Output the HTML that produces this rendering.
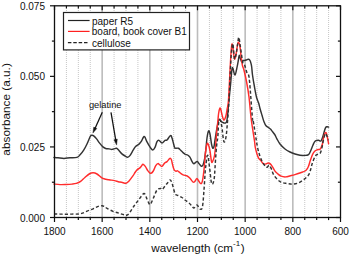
<!DOCTYPE html>
<html><head><meta charset="utf-8"><style>
html,body{margin:0;padding:0;background:#fff;}
body{width:350px;height:255px;overflow:hidden;}
svg{display:block;}
</style></head><body>
<svg width="350" height="255" viewBox="0 0 350 255">
<rect width="350" height="255" fill="#fff"/>
<g><line x1="66.42" y1="6.00" x2="66.42" y2="217.50" stroke="#c6c6c6" stroke-width="1" stroke-dasharray="1,1"/><line x1="78.33" y1="6.00" x2="78.33" y2="217.50" stroke="#c6c6c6" stroke-width="1" stroke-dasharray="1,1"/><line x1="90.25" y1="6.00" x2="90.25" y2="217.50" stroke="#c6c6c6" stroke-width="1" stroke-dasharray="1,1"/><line x1="102.17" y1="5.80" x2="102.17" y2="217.50" stroke="#bcbcbc" stroke-width="1.6"/><line x1="114.08" y1="6.00" x2="114.08" y2="217.50" stroke="#c6c6c6" stroke-width="1" stroke-dasharray="1,1"/><line x1="126.00" y1="6.00" x2="126.00" y2="217.50" stroke="#c6c6c6" stroke-width="1" stroke-dasharray="1,1"/><line x1="137.92" y1="6.00" x2="137.92" y2="217.50" stroke="#c6c6c6" stroke-width="1" stroke-dasharray="1,1"/><line x1="149.83" y1="5.80" x2="149.83" y2="217.50" stroke="#bcbcbc" stroke-width="1.6"/><line x1="161.75" y1="6.00" x2="161.75" y2="217.50" stroke="#c6c6c6" stroke-width="1" stroke-dasharray="1,1"/><line x1="173.67" y1="6.00" x2="173.67" y2="217.50" stroke="#c6c6c6" stroke-width="1" stroke-dasharray="1,1"/><line x1="185.58" y1="6.00" x2="185.58" y2="217.50" stroke="#c6c6c6" stroke-width="1" stroke-dasharray="1,1"/><line x1="197.50" y1="5.80" x2="197.50" y2="217.50" stroke="#bcbcbc" stroke-width="1.6"/><line x1="209.42" y1="6.00" x2="209.42" y2="217.50" stroke="#c6c6c6" stroke-width="1" stroke-dasharray="1,1"/><line x1="221.33" y1="6.00" x2="221.33" y2="217.50" stroke="#c6c6c6" stroke-width="1" stroke-dasharray="1,1"/><line x1="233.25" y1="6.00" x2="233.25" y2="217.50" stroke="#c6c6c6" stroke-width="1" stroke-dasharray="1,1"/><line x1="245.17" y1="5.80" x2="245.17" y2="217.50" stroke="#bcbcbc" stroke-width="1.6"/><line x1="257.08" y1="6.00" x2="257.08" y2="217.50" stroke="#c6c6c6" stroke-width="1" stroke-dasharray="1,1"/><line x1="269.00" y1="6.00" x2="269.00" y2="217.50" stroke="#c6c6c6" stroke-width="1" stroke-dasharray="1,1"/><line x1="280.92" y1="6.00" x2="280.92" y2="217.50" stroke="#c6c6c6" stroke-width="1" stroke-dasharray="1,1"/><line x1="292.83" y1="5.80" x2="292.83" y2="217.50" stroke="#bcbcbc" stroke-width="1.6"/><line x1="304.75" y1="6.00" x2="304.75" y2="217.50" stroke="#c6c6c6" stroke-width="1" stroke-dasharray="1,1"/><line x1="316.67" y1="6.00" x2="316.67" y2="217.50" stroke="#c6c6c6" stroke-width="1" stroke-dasharray="1,1"/><line x1="328.58" y1="6.00" x2="328.58" y2="217.50" stroke="#c6c6c6" stroke-width="1" stroke-dasharray="1,1"/></g>
<g fill="none" stroke-linejoin="round" stroke-linecap="round">
<path d="M54.00,157.50 C54.67,157.55 56.33,157.65 58.00,157.80 C59.67,157.95 62.00,158.40 64.00,158.40 C66.00,158.40 67.85,157.97 70.00,157.80 C72.15,157.63 75.18,157.93 76.90,157.40 C78.62,156.87 79.17,155.80 80.30,154.60 C81.43,153.40 82.57,152.02 83.70,150.20 C84.83,148.38 86.00,146.00 87.10,143.70 C88.20,141.40 89.48,137.80 90.30,136.40 C91.12,135.00 91.43,135.38 92.00,135.30 C92.57,135.22 92.93,135.30 93.70,135.90 C94.47,136.50 95.65,137.73 96.60,138.90 C97.55,140.07 98.35,141.57 99.40,142.90 C100.45,144.23 101.85,145.97 102.90,146.90 C103.95,147.83 104.67,148.17 105.70,148.50 C106.73,148.83 108.05,148.75 109.10,148.90 C110.15,149.05 111.03,149.45 112.00,149.40 C112.97,149.35 114.13,148.78 114.90,148.60 C115.67,148.42 116.03,148.10 116.60,148.30 C117.17,148.50 117.42,148.87 118.30,149.80 C119.18,150.73 120.73,152.85 121.90,153.90 C123.07,154.95 124.35,155.55 125.30,156.10 C126.25,156.65 126.83,157.28 127.60,157.20 C128.37,157.12 128.95,156.82 129.90,155.60 C130.85,154.38 132.35,151.43 133.30,149.90 C134.25,148.37 134.65,147.37 135.60,146.40 C136.55,145.43 138.05,144.93 139.00,144.10 C139.95,143.27 140.57,142.55 141.30,141.40 C142.03,140.25 142.82,137.95 143.40,137.20 C143.98,136.45 144.20,136.12 144.80,136.90 C145.40,137.68 146.07,140.12 147.00,141.90 C147.93,143.68 149.45,146.25 150.40,147.60 C151.35,148.95 151.93,150.03 152.70,150.00 C153.47,149.97 154.28,148.80 155.00,147.40 C155.72,146.00 156.33,142.77 157.00,141.60 C157.67,140.43 158.17,140.17 159.00,140.40 C159.83,140.63 161.00,143.00 162.00,143.00 C163.00,143.00 164.17,140.90 165.00,140.40 C165.83,139.90 166.10,140.80 167.00,140.00 C167.90,139.20 169.57,135.93 170.40,135.60 C171.23,135.27 171.33,136.10 172.00,138.00 C172.67,139.90 173.90,145.32 174.40,147.00 C174.90,148.68 174.33,147.88 175.00,148.10 C175.67,148.32 177.45,147.93 178.40,148.30 C179.35,148.67 179.93,149.58 180.70,150.30 C181.47,151.02 182.23,151.93 183.00,152.60 C183.77,153.27 184.53,153.90 185.30,154.30 C186.07,154.70 186.83,154.52 187.60,155.00 C188.37,155.48 189.15,156.10 189.90,157.20 C190.65,158.30 191.43,160.50 192.10,161.60 C192.77,162.70 193.32,163.67 193.90,163.80 C194.48,163.93 195.03,162.80 195.60,162.40 C196.17,162.00 196.73,161.20 197.30,161.40 C197.87,161.60 198.33,162.80 199.00,163.60 C199.67,164.40 200.63,165.97 201.30,166.20 C201.97,166.43 202.43,166.32 203.00,165.00 C203.57,163.68 204.22,160.95 204.70,158.30 C205.18,155.65 205.52,152.48 205.90,149.10 C206.28,145.72 206.55,141.02 207.00,138.00 C207.45,134.98 208.10,131.67 208.60,131.00 C209.10,130.33 209.52,131.83 210.00,134.00 C210.48,136.17 211.05,141.63 211.50,144.00 C211.95,146.37 212.28,147.78 212.70,148.20 C213.12,148.62 213.62,147.87 214.00,146.50 C214.38,145.13 214.50,143.08 215.00,140.00 C215.50,136.92 216.35,131.40 217.00,128.00 C217.65,124.60 218.23,120.72 218.90,119.60 C219.57,118.48 220.40,120.85 221.00,121.30 C221.60,121.75 222.00,122.02 222.50,122.30 C223.00,122.58 223.50,122.88 224.00,123.00 C224.50,123.12 225.07,123.20 225.50,123.00 C225.93,122.80 226.27,122.97 226.60,121.80 C226.93,120.63 227.10,119.63 227.50,116.00 C227.90,112.37 228.50,105.17 229.00,100.00 C229.50,94.83 229.95,90.37 230.50,85.00 C231.05,79.63 231.57,69.45 232.30,67.80 C233.03,66.15 234.10,75.25 234.90,75.10 C235.70,74.95 236.52,69.42 237.10,66.90 C237.68,64.38 238.05,61.93 238.40,60.00 C238.75,58.07 238.85,55.50 239.20,55.30 C239.55,55.10 240.07,57.65 240.50,58.80 C240.93,59.95 241.37,61.92 241.80,62.20 C242.23,62.48 242.60,60.78 243.10,60.50 C243.60,60.22 244.15,60.63 244.80,60.50 C245.45,60.37 246.35,59.92 247.00,59.70 C247.65,59.48 248.20,59.07 248.70,59.20 C249.20,59.33 249.63,59.85 250.00,60.50 C250.37,61.15 250.62,62.02 250.90,63.10 C251.18,64.18 251.43,65.02 251.70,67.00 C251.97,68.98 252.03,71.67 252.50,75.00 C252.97,78.33 253.82,83.25 254.50,87.00 C255.18,90.75 255.90,94.78 256.60,97.50 C257.30,100.22 258.13,101.47 258.70,103.30 C259.27,105.13 259.45,106.50 260.00,108.50 C260.55,110.50 261.33,113.08 262.00,115.30 C262.67,117.52 263.33,120.05 264.00,121.80 C264.67,123.55 265.22,124.82 266.00,125.80 C266.78,126.78 267.92,127.12 268.70,127.70 C269.48,128.28 270.13,128.73 270.70,129.30 C271.27,129.87 271.43,130.23 272.10,131.10 C272.77,131.97 273.90,133.22 274.70,134.50 C275.50,135.78 276.02,137.22 276.90,138.80 C277.78,140.38 278.65,142.30 280.00,144.00 C281.35,145.70 283.33,147.67 285.00,149.00 C286.67,150.33 288.33,151.17 290.00,152.00 C291.67,152.83 293.33,153.45 295.00,154.00 C296.67,154.55 298.30,155.07 300.00,155.30 C301.70,155.53 303.90,155.45 305.20,155.40 C306.50,155.35 307.08,155.35 307.80,155.00 C308.52,154.65 308.93,154.22 309.50,153.30 C310.07,152.38 310.63,150.85 311.20,149.50 C311.77,148.15 312.27,146.58 312.90,145.20 C313.53,143.82 314.07,142.02 315.00,141.20 C315.93,140.38 317.50,140.33 318.50,140.30 C319.50,140.27 320.30,141.55 321.00,141.00 C321.70,140.45 322.13,138.67 322.70,137.00 C323.27,135.33 323.92,132.57 324.40,131.00 C324.88,129.43 325.18,128.30 325.60,127.60 C326.02,126.90 326.40,126.88 326.90,126.80 C327.40,126.72 328.32,127.05 328.60,127.10" stroke="#333333" stroke-width="1.45"/>
<path d="M54.00,184.00 C55.00,184.10 58.00,184.52 60.00,184.60 C62.00,184.68 64.00,184.58 66.00,184.50 C68.00,184.42 70.28,184.28 72.00,184.10 C73.72,183.92 74.87,183.85 76.30,183.40 C77.73,182.95 79.17,182.38 80.60,181.40 C82.03,180.42 83.47,178.73 84.90,177.50 C86.33,176.27 87.83,174.78 89.20,174.00 C90.57,173.22 91.80,172.80 93.10,172.80 C94.40,172.80 95.63,173.23 97.00,174.00 C98.37,174.77 100.13,176.60 101.30,177.40 C102.47,178.20 102.72,178.40 104.00,178.80 C105.28,179.20 107.25,179.50 109.00,179.80 C110.75,180.10 112.95,180.28 114.50,180.60 C116.05,180.92 117.10,181.42 118.30,181.70 C119.50,181.98 120.42,182.05 121.70,182.30 C122.98,182.55 124.85,183.33 126.00,183.20 C127.15,183.07 127.42,182.75 128.60,181.50 C129.78,180.25 132.03,177.20 133.10,175.70 C134.17,174.20 134.30,173.52 135.00,172.50 C135.70,171.48 136.53,170.33 137.30,169.60 C138.07,168.87 138.90,168.70 139.60,168.10 C140.30,167.50 140.93,166.63 141.50,166.00 C142.07,165.37 142.37,164.23 143.00,164.30 C143.63,164.37 144.53,165.38 145.30,166.40 C146.07,167.42 146.90,169.37 147.60,170.40 C148.30,171.43 148.93,172.12 149.50,172.60 C150.07,173.08 150.37,173.57 151.00,173.30 C151.63,173.03 152.53,172.23 153.30,171.00 C154.07,169.77 154.83,167.13 155.60,165.90 C156.37,164.67 157.23,163.80 157.90,163.60 C158.57,163.40 158.93,164.23 159.60,164.70 C160.27,165.17 161.05,166.68 161.90,166.40 C162.75,166.12 163.85,163.80 164.70,163.00 C165.55,162.20 166.13,162.37 167.00,161.60 C167.87,160.83 169.17,158.70 169.90,158.40 C170.63,158.10 170.97,158.80 171.40,159.80 C171.83,160.80 172.07,162.78 172.50,164.40 C172.93,166.02 173.47,168.37 174.00,169.50 C174.53,170.63 175.12,170.97 175.70,171.20 C176.28,171.43 176.73,170.60 177.50,170.90 C178.27,171.20 179.37,172.33 180.30,173.00 C181.23,173.67 181.97,174.40 183.10,174.90 C184.23,175.40 185.95,175.43 187.10,176.00 C188.25,176.57 189.03,177.30 190.00,178.30 C190.97,179.30 192.13,181.42 192.90,182.00 C193.67,182.58 193.95,182.37 194.60,181.80 C195.25,181.23 196.13,178.77 196.80,178.60 C197.47,178.43 197.98,179.98 198.60,180.80 C199.22,181.62 199.95,183.17 200.50,183.50 C201.05,183.83 201.47,183.87 201.90,182.80 C202.33,181.73 202.70,179.75 203.10,177.10 C203.50,174.45 203.93,170.75 204.30,166.90 C204.67,163.05 204.95,157.40 205.30,154.00 C205.65,150.60 206.05,148.30 206.40,146.50 C206.75,144.70 207.02,143.37 207.40,143.20 C207.78,143.03 208.27,144.20 208.70,145.50 C209.13,146.80 209.53,148.32 210.00,151.00 C210.47,153.68 211.07,159.85 211.50,161.60 C211.93,163.35 212.12,162.40 212.60,161.50 C213.08,160.60 213.90,158.78 214.40,156.20 C214.90,153.62 215.18,150.42 215.60,146.00 C216.02,141.58 216.53,133.72 216.90,129.70 C217.27,125.68 217.52,124.60 217.80,121.90 C218.08,119.20 218.25,115.78 218.60,113.50 C218.95,111.22 219.53,108.87 219.90,108.20 C220.27,107.53 220.43,108.35 220.80,109.50 C221.17,110.65 221.67,113.45 222.10,115.10 C222.53,116.75 223.00,118.65 223.40,119.40 C223.80,120.15 224.07,120.25 224.50,119.60 C224.93,118.95 225.55,117.33 226.00,115.50 C226.45,113.67 226.78,111.18 227.20,108.60 C227.62,106.02 228.00,106.93 228.50,100.00 C229.00,93.07 229.77,75.00 230.20,67.00 C230.63,59.00 230.82,55.80 231.10,52.00 C231.38,48.20 231.62,45.03 231.90,44.20 C232.18,43.37 232.37,44.57 232.80,47.00 C233.23,49.43 233.93,57.70 234.50,58.80 C235.07,59.90 235.63,56.25 236.20,53.60 C236.77,50.95 237.32,44.33 237.90,42.90 C238.48,41.47 239.18,42.93 239.70,45.00 C240.22,47.07 240.57,52.00 241.00,55.30 C241.43,58.60 241.80,62.30 242.30,64.80 C242.80,67.30 243.28,67.43 244.00,70.30 C244.72,73.17 245.77,77.55 246.60,82.00 C247.43,86.45 248.23,90.83 249.00,97.00 C249.77,103.17 250.28,111.67 251.20,119.00 C252.12,126.33 253.83,136.35 254.50,141.00 C255.17,145.65 254.80,144.77 255.20,146.90 C255.60,149.03 256.33,151.93 256.90,153.80 C257.47,155.67 257.98,157.03 258.60,158.10 C259.22,159.17 259.83,159.28 260.60,160.20 C261.37,161.12 262.42,162.95 263.20,163.60 C263.98,164.25 264.58,164.17 265.30,164.10 C266.02,164.03 266.85,163.35 267.50,163.20 C268.15,163.05 268.63,162.98 269.20,163.20 C269.77,163.42 270.25,163.72 270.90,164.50 C271.55,165.28 272.38,166.75 273.10,167.90 C273.82,169.05 274.48,170.47 275.20,171.40 C275.92,172.33 276.42,172.70 277.40,173.50 C278.38,174.30 279.72,175.63 281.10,176.20 C282.48,176.77 284.17,176.97 285.70,176.90 C287.23,176.83 288.77,176.18 290.30,175.80 C291.83,175.42 293.18,175.12 294.90,174.60 C296.62,174.08 298.90,173.30 300.60,172.70 C302.30,172.10 303.97,171.70 305.10,171.00 C306.23,170.30 306.83,169.28 307.40,168.50 C307.97,167.72 308.02,167.62 308.50,166.30 C308.98,164.98 309.63,162.55 310.30,160.60 C310.97,158.65 311.77,156.17 312.50,154.60 C313.23,153.03 313.92,152.00 314.70,151.20 C315.48,150.40 316.35,150.12 317.20,149.80 C318.05,149.48 319.15,149.67 319.80,149.30 C320.45,148.93 320.67,148.48 321.10,147.60 C321.53,146.72 322.00,145.63 322.40,144.00 C322.80,142.37 323.08,139.55 323.50,137.80 C323.92,136.05 324.47,134.35 324.90,133.50 C325.33,132.65 325.70,132.13 326.10,132.70 C326.50,133.27 326.88,135.07 327.30,136.90 C327.72,138.73 328.38,142.57 328.60,143.70" stroke="#ff2c2c" stroke-width="1.45"/>
<path d="M54.00,214.00 C55.00,214.02 58.00,214.07 60.00,214.10 C62.00,214.13 64.00,214.20 66.00,214.20 C68.00,214.20 69.90,214.13 72.00,214.10 C74.10,214.07 76.83,214.17 78.60,214.00 C80.37,213.83 81.18,213.58 82.60,213.10 C84.02,212.62 85.58,211.72 87.10,211.10 C88.62,210.48 90.27,210.02 91.70,209.40 C93.13,208.78 94.48,207.95 95.70,207.40 C96.92,206.85 97.95,206.37 99.00,206.10 C100.05,205.83 101.17,205.77 102.00,205.80 C102.83,205.83 103.15,205.87 104.00,206.30 C104.85,206.73 105.62,207.57 107.10,208.40 C108.58,209.23 110.98,210.52 112.90,211.30 C114.82,212.08 116.70,212.50 118.60,213.10 C120.50,213.70 122.98,214.53 124.30,214.90 C125.62,215.27 125.65,215.62 126.50,215.30 C127.35,214.98 128.15,214.55 129.40,213.00 C130.65,211.45 132.40,208.25 134.00,206.00 C135.60,203.75 137.33,201.58 139.00,199.50 C140.67,197.42 142.67,193.58 144.00,193.50 C145.33,193.42 146.00,197.15 147.00,199.00 C148.00,200.85 149.00,204.60 150.00,204.60 C151.00,204.60 151.83,201.43 153.00,199.00 C154.17,196.57 155.67,191.75 157.00,190.00 C158.33,188.25 160.10,188.58 161.00,188.50 C161.90,188.42 161.73,189.92 162.40,189.50 C163.07,189.08 164.15,187.08 165.00,186.00 C165.85,184.92 166.67,184.00 167.50,183.00 C168.33,182.00 169.25,180.00 170.00,180.00 C170.75,180.00 171.17,180.75 172.00,183.00 C172.83,185.25 174.00,191.42 175.00,193.50 C176.00,195.58 176.83,194.83 178.00,195.50 C179.17,196.17 180.83,196.75 182.00,197.50 C183.17,198.25 183.83,199.08 185.00,200.00 C186.17,200.92 187.83,202.00 189.00,203.00 C190.17,204.00 191.17,205.17 192.00,206.00 C192.83,206.83 193.17,208.17 194.00,208.00 C194.83,207.83 196.00,204.83 197.00,205.00 C198.00,205.17 199.10,208.67 200.00,209.00 C200.90,209.33 201.73,210.17 202.40,207.00 C203.07,203.83 203.52,196.17 204.00,190.00 C204.48,183.83 204.98,174.07 205.30,170.00 C205.62,165.93 205.62,167.87 205.90,165.60 C206.18,163.33 206.63,158.02 207.00,156.40 C207.37,154.78 207.82,155.13 208.10,155.90 C208.38,156.67 208.40,158.63 208.70,161.00 C209.00,163.37 209.52,166.88 209.90,170.10 C210.28,173.32 210.63,177.93 211.00,180.30 C211.37,182.67 211.72,183.92 212.10,184.30 C212.48,184.68 212.92,183.83 213.30,182.60 C213.68,181.37 214.02,180.88 214.40,176.90 C214.78,172.92 215.22,164.02 215.60,158.70 C215.98,153.38 216.33,148.62 216.70,145.00 C217.07,141.38 217.48,140.57 217.80,137.00 C218.12,133.43 218.32,126.43 218.60,123.60 C218.88,120.77 219.22,120.60 219.50,120.00 C219.78,119.40 220.02,119.40 220.30,120.00 C220.58,120.60 220.90,122.27 221.20,123.60 C221.50,124.93 221.88,126.57 222.10,128.00 C222.32,129.43 222.27,130.20 222.50,132.20 C222.73,134.20 223.17,138.37 223.50,140.00 C223.83,141.63 224.08,142.50 224.50,142.00 C224.92,141.50 225.55,139.78 226.00,137.00 C226.45,134.22 226.70,131.47 227.20,125.30 C227.70,119.13 228.38,110.88 229.00,100.00 C229.62,89.12 230.40,68.80 230.90,60.00 C231.40,51.20 231.65,49.78 232.00,47.20 C232.35,44.62 232.58,42.57 233.00,44.50 C233.42,46.43 233.97,57.28 234.50,58.80 C235.03,60.32 235.70,55.90 236.20,53.60 C236.70,51.30 237.07,47.72 237.50,45.00 C237.93,42.28 238.37,37.30 238.80,37.30 C239.23,37.30 239.67,42.28 240.10,45.00 C240.53,47.72 240.97,50.73 241.40,53.60 C241.83,56.47 242.20,60.42 242.70,62.20 C243.20,63.98 243.68,62.52 244.40,64.30 C245.12,66.08 246.30,71.12 247.00,72.90 C247.70,74.68 248.17,73.48 248.60,75.00 C249.03,76.52 249.23,78.33 249.60,82.00 C249.97,85.67 250.32,90.83 250.80,97.00 C251.28,103.17 252.10,115.05 252.50,119.00 C252.90,122.95 252.58,117.25 253.20,120.70 C253.82,124.15 255.43,135.05 256.20,139.70 C256.97,144.35 257.25,146.10 257.80,148.60 C258.35,151.10 258.82,152.63 259.50,154.70 C260.18,156.77 261.15,159.37 261.90,161.00 C262.65,162.63 263.35,163.50 264.00,164.50 C264.65,165.50 265.22,166.58 265.80,167.00 C266.38,167.42 266.93,167.28 267.50,167.00 C268.07,166.72 268.48,164.85 269.20,165.30 C269.92,165.75 271.15,168.30 271.80,169.70 C272.45,171.10 272.30,172.22 273.10,173.70 C273.90,175.18 275.27,177.18 276.60,178.60 C277.93,180.02 279.38,181.38 281.10,182.20 C282.82,183.02 284.98,183.18 286.90,183.50 C288.82,183.82 290.70,184.18 292.60,184.10 C294.50,184.02 296.40,183.78 298.30,183.00 C300.20,182.22 302.28,180.75 304.00,179.40 C305.72,178.05 307.52,176.47 308.60,174.90 C309.68,173.33 310.02,171.48 310.50,170.00 C310.98,168.52 311.10,167.40 311.50,166.00 C311.90,164.60 312.30,163.22 312.90,161.60 C313.50,159.98 314.38,157.48 315.10,156.30 C315.82,155.12 316.42,154.95 317.20,154.50 C317.98,154.05 319.15,154.18 319.80,153.60 C320.45,153.02 320.70,152.18 321.10,151.00 C321.50,149.82 321.88,148.00 322.20,146.50 C322.52,145.00 322.63,143.73 323.00,142.00 C323.37,140.27 323.97,137.52 324.40,136.10 C324.83,134.68 325.18,133.50 325.60,133.50 C326.02,133.50 326.45,134.97 326.90,136.10 C327.35,137.23 328.07,139.60 328.30,140.30" stroke="#333333" stroke-width="1.45" stroke-dasharray="3.2,2.2" stroke-linecap="butt"/>
</g>
<rect x="63.5" y="12.5" width="126" height="37.4" fill="#fff" stroke="#222" stroke-width="1.2"/>
<line x1="68" y1="20.5" x2="89.6" y2="20.5" stroke="#222" stroke-width="1.2"/>
<line x1="68" y1="31.4" x2="89.6" y2="31.4" stroke="#ff2020" stroke-width="1.2"/>
<line x1="67.9" y1="42.7" x2="87.5" y2="42.7" stroke="#222" stroke-width="1.2" stroke-dasharray="3.5,1.87"/>
<g font-family="Liberation Sans, sans-serif" font-size="10" fill="#111">
<text x="92" y="24.5">paper R5</text>
<text x="91.8" y="35.4">board, book cover B1</text>
<text x="92" y="46.5">cellulose</text>
</g>
<g stroke="#111" stroke-width="1.2"><line x1="54.50" y1="217.50" x2="54.50" y2="222.00"/><line x1="54.50" y1="5.80" x2="54.50" y2="10.30"/><line x1="66.42" y1="217.50" x2="66.42" y2="220.10"/><line x1="66.42" y1="5.80" x2="66.42" y2="8.40"/><line x1="78.33" y1="217.50" x2="78.33" y2="220.10"/><line x1="78.33" y1="5.80" x2="78.33" y2="8.40"/><line x1="90.25" y1="217.50" x2="90.25" y2="220.10"/><line x1="90.25" y1="5.80" x2="90.25" y2="8.40"/><line x1="102.17" y1="217.50" x2="102.17" y2="222.00"/><line x1="102.17" y1="5.80" x2="102.17" y2="10.30"/><line x1="114.08" y1="217.50" x2="114.08" y2="220.10"/><line x1="114.08" y1="5.80" x2="114.08" y2="8.40"/><line x1="126.00" y1="217.50" x2="126.00" y2="220.10"/><line x1="126.00" y1="5.80" x2="126.00" y2="8.40"/><line x1="137.92" y1="217.50" x2="137.92" y2="220.10"/><line x1="137.92" y1="5.80" x2="137.92" y2="8.40"/><line x1="149.83" y1="217.50" x2="149.83" y2="222.00"/><line x1="149.83" y1="5.80" x2="149.83" y2="10.30"/><line x1="161.75" y1="217.50" x2="161.75" y2="220.10"/><line x1="161.75" y1="5.80" x2="161.75" y2="8.40"/><line x1="173.67" y1="217.50" x2="173.67" y2="220.10"/><line x1="173.67" y1="5.80" x2="173.67" y2="8.40"/><line x1="185.58" y1="217.50" x2="185.58" y2="220.10"/><line x1="185.58" y1="5.80" x2="185.58" y2="8.40"/><line x1="197.50" y1="217.50" x2="197.50" y2="222.00"/><line x1="197.50" y1="5.80" x2="197.50" y2="10.30"/><line x1="209.42" y1="217.50" x2="209.42" y2="220.10"/><line x1="209.42" y1="5.80" x2="209.42" y2="8.40"/><line x1="221.33" y1="217.50" x2="221.33" y2="220.10"/><line x1="221.33" y1="5.80" x2="221.33" y2="8.40"/><line x1="233.25" y1="217.50" x2="233.25" y2="220.10"/><line x1="233.25" y1="5.80" x2="233.25" y2="8.40"/><line x1="245.17" y1="217.50" x2="245.17" y2="222.00"/><line x1="245.17" y1="5.80" x2="245.17" y2="10.30"/><line x1="257.08" y1="217.50" x2="257.08" y2="220.10"/><line x1="257.08" y1="5.80" x2="257.08" y2="8.40"/><line x1="269.00" y1="217.50" x2="269.00" y2="220.10"/><line x1="269.00" y1="5.80" x2="269.00" y2="8.40"/><line x1="280.92" y1="217.50" x2="280.92" y2="220.10"/><line x1="280.92" y1="5.80" x2="280.92" y2="8.40"/><line x1="292.83" y1="217.50" x2="292.83" y2="222.00"/><line x1="292.83" y1="5.80" x2="292.83" y2="10.30"/><line x1="304.75" y1="217.50" x2="304.75" y2="220.10"/><line x1="304.75" y1="5.80" x2="304.75" y2="8.40"/><line x1="316.67" y1="217.50" x2="316.67" y2="220.10"/><line x1="316.67" y1="5.80" x2="316.67" y2="8.40"/><line x1="328.58" y1="217.50" x2="328.58" y2="220.10"/><line x1="328.58" y1="5.80" x2="328.58" y2="8.40"/><line x1="340.50" y1="217.50" x2="340.50" y2="222.00"/><line x1="340.50" y1="5.80" x2="340.50" y2="10.30"/><line x1="50.00" y1="217.50" x2="54.50" y2="217.50"/><line x1="336.00" y1="217.50" x2="340.50" y2="217.50"/><line x1="51.90" y1="182.22" x2="54.50" y2="182.22"/><line x1="337.90" y1="182.22" x2="340.50" y2="182.22"/><line x1="50.00" y1="146.93" x2="54.50" y2="146.93"/><line x1="336.00" y1="146.93" x2="340.50" y2="146.93"/><line x1="51.90" y1="111.65" x2="54.50" y2="111.65"/><line x1="337.90" y1="111.65" x2="340.50" y2="111.65"/><line x1="50.00" y1="76.37" x2="54.50" y2="76.37"/><line x1="336.00" y1="76.37" x2="340.50" y2="76.37"/><line x1="51.90" y1="41.08" x2="54.50" y2="41.08"/><line x1="337.90" y1="41.08" x2="340.50" y2="41.08"/><line x1="50.00" y1="5.80" x2="54.50" y2="5.80"/><line x1="336.00" y1="5.80" x2="340.50" y2="5.80"/></g>
<rect x="54.5" y="5.8" width="286.0" height="211.7" fill="none" stroke="#111" stroke-width="1.3"/>
<g font-family="Liberation Sans, sans-serif" fill="#111">
<text x="45" y="221.50" text-anchor="end" font-size="10">0.000</text><text x="45" y="150.93" text-anchor="end" font-size="10">0.025</text><text x="45" y="80.37" text-anchor="end" font-size="10">0.050</text><text x="45" y="9.80" text-anchor="end" font-size="10">0.075</text>
<text x="54.50" y="234.6" text-anchor="middle" font-size="10">1800</text><text x="102.17" y="234.6" text-anchor="middle" font-size="10">1600</text><text x="149.83" y="234.6" text-anchor="middle" font-size="10">1400</text><text x="197.50" y="234.6" text-anchor="middle" font-size="10">1200</text><text x="245.17" y="234.6" text-anchor="middle" font-size="10">1000</text><text x="292.83" y="234.6" text-anchor="middle" font-size="10">800</text><text x="340.50" y="234.6" text-anchor="middle" font-size="10">600</text>
<text x="198" y="251.5" text-anchor="middle" font-size="11.7">wavelength (cm<tspan font-size="8" dy="-6">-1</tspan><tspan dy="6" dx="0.6">)</tspan></text>
<text transform="translate(10.3,109.4) rotate(-90)" text-anchor="middle" font-size="11.8">absorbance (a.u.)</text>
<text x="105.2" y="108" text-anchor="middle" font-size="9.3">gelatine</text>
</g>
<g stroke="#111" stroke-width="1.25" fill="#111"><line x1="102.30" y1="112.30" x2="94.88" y2="128.73"/><polygon stroke-width="0.4" points="92.90,133.10 93.74,127.11 96.84,128.51"/><line x1="111.00" y1="112.30" x2="115.79" y2="140.37"/><polygon stroke-width="0.4" points="116.60,145.10 113.95,139.67 117.30,139.10"/></g>
</svg>
</body></html>
